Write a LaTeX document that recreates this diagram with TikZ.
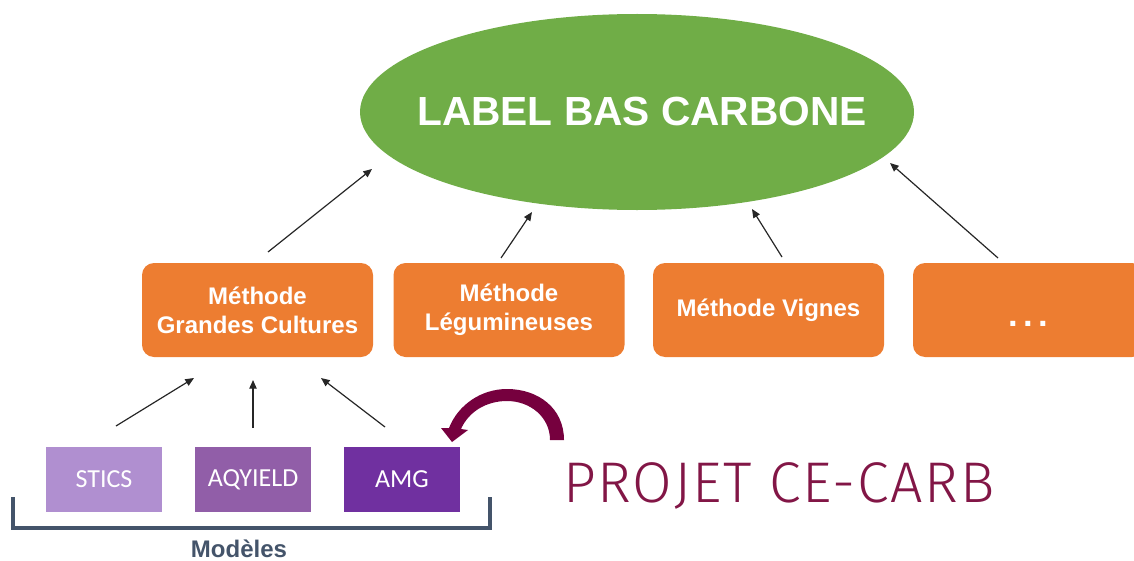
\documentclass[tikz,border=0pt]{standalone}
\usepackage{fontspec}
\setmainfont{Liberation Sans}
\newfontfamily\carlito{Carlito}
\newfontfamily\firalight[LetterSpace=3]{Fira Sans Light}
\usetikzlibrary{arrows.meta,shapes.geometric}

\definecolor{lbcgreen}{RGB}{112,173,71}
\definecolor{methodorange}{RGB}{237,125,49}
\definecolor{sticspurple}{RGB}{176,143,208}
\definecolor{aqypurple}{RGB}{145,94,168}
\definecolor{amgpurple}{RGB}{112,48,160}
\definecolor{slate}{RGB}{68,84,106}
\definecolor{projmaroon}{RGB}{130,22,70}
\definecolor{curvemaroon}{RGB}{118,0,62}

\tikzset{every picture/.style={line width=0.75pt}}
\tikzset{
  methode/.style={fill=methodorange, rounded corners=9pt, minimum width=173.25pt, minimum height=70.5pt, inner sep=0pt, outer sep=0pt, text=white, align=center, font=\bfseries\fontsize{18}{21.5}\selectfont},
  modele/.style={minimum width=87pt, minimum height=48.75pt, inner sep=0pt, outer sep=0pt, text=white, font=\carlito\fontsize{19.5}{22}\selectfont},
  fleche/.style={-{Triangle[length=6.5pt,width=5.5pt]}, line width=0.9pt, draw=black!85}
}

\begin{document}
\begin{tikzpicture}[x=0.75pt,y=0.75pt,yscale=-1,xscale=1]
\path[use as bounding box] (0,0) rectangle (1134,560);

%Shape: Ellipse
\node[ellipse, fill=lbcgreen, minimum width=415.5pt, minimum height=147pt, inner sep=0pt] (lbc) at (637,112) {};
\node[text=white, inner sep=0pt, font=\bfseries\fontsize{30.5}{36}\selectfont] (lbc-texte) at (642,112) {LABEL BAS CARBONE};

%Shape: Rounded Rect
\node[methode] (gc) at (257.5,310) {Méthode\\Grandes Cultures};
\node[methode] (leg) at (509,310) {Méthode\\Légumineuses};
\node[methode] (vig) at (768.5,310) {Méthode Vignes};
\node[methode] (autre) at (1028.5,310) {};
\node[anchor=base, text=white, inner sep=0pt, font=\bfseries\fontsize{26}{30}\selectfont] (autre-texte) at (1028.5,326) {.\hspace{4pt}.\hspace{4pt}.};

%Shape: Rectangle
\node[modele, fill=sticspurple] (stics) at (104,479.5) {STICS};
\node[modele, fill=aqypurple] (aqy) at (253,479.5) {AQYIELD};
\node[modele, fill=amgpurple] (amg) at (402,479.5) {AMG};

%Straight Lines
\coordinate (gc-dep) at (268,252);
\coordinate (gc-arr) at (372,169);
\coordinate (leg-dep) at (501,258);
\coordinate (leg-arr) at (532,212);
\coordinate (vig-dep) at (782,257);
\coordinate (vig-arr) at (752,209);
\coordinate (autre-dep) at (998,258);
\coordinate (autre-arr) at (890,163);
\draw[fleche] (gc-dep) -- (gc-arr);
\draw[fleche] (leg-dep) -- (leg-arr);
\draw[fleche] (vig-dep) -- (vig-arr);
\draw[fleche] (autre-dep) -- (autre-arr);

\coordinate (stics-dep) at (116,426);
\coordinate (stics-arr) at (194,378);
\coordinate (aqy-dep) at (253,428);
\coordinate (aqy-arr) at (253,380);
\coordinate (amg-dep) at (385,427);
\coordinate (amg-arr) at (321,378);
\draw[fleche] (stics-dep) -- (stics-arr);
\draw[fleche] (aqy-dep) -- (aqy-arr);
\draw[fleche] (amg-dep) -- (amg-arr);

%Curve Lines
\fill[curvemaroon] (564,440) .. controls (564,408) and (538,389) .. (507,389) .. controls (481,389) and (458,405) .. (449,428) -- (441,428) -- (452,442) -- (468,430) -- (461,429) .. controls (469,411) and (487,401) .. (507,401) .. controls (530,401) and (550,417) .. (550,440) -- cycle;

%Shape: Bracket
\draw[slate, line width=2.5pt] (13,497) |- (490,528) -- (490,497);

% Text Node
\node[anchor=base, text=slate, font=\bfseries\fontsize{18}{21}\selectfont] (modeles) at (239,557) {Modèles};
% Text Node
\node[anchor=base, text=projmaroon, font=\firalight\fontsize{43}{50}\selectfont] (projet) at (779,502) {PROJET CE-CARB};
\end{tikzpicture}
\end{document}
